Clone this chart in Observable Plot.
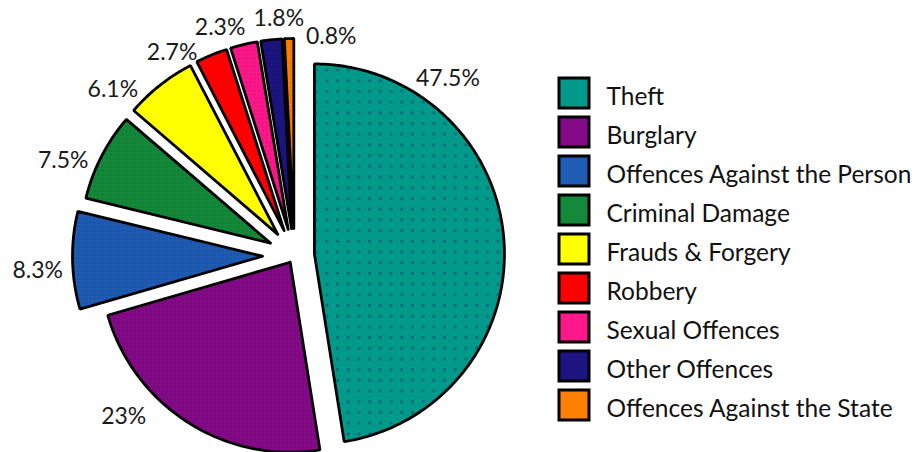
<!DOCTYPE html>
<html><head><meta charset="utf-8">
<script src="https://cdn.jsdelivr.net/npm/d3@7"></script>
<script src="https://cdn.jsdelivr.net/npm/@observablehq/plot@0.6"></script>
<style>body{margin:0;background:#fff} #chart svg{display:block}</style>
</head><body><div id="chart"></div>
<script>
// ---- data ----
const categories = ["Theft","Burglary","Offences Against the Person","Criminal Damage","Frauds & Forgery","Robbery","Sexual Offences","Other Offences","Offences Against the State"];
const values = [47.5, 23, 8.3, 7.5, 6.1, 2.7, 2.3, 1.8, 0.8];
const labels = ["47.5%","23%","8.3%","7.5%","6.1%","2.7%","2.3%","1.8%","0.8%"];
const colors = ["#00998a","#850a88","#1f5cb4","#14893a","#ffff00","#ff0000","#ff188c","#1c1480","#ff8000"];

// ---- layout ----
const W = 915, H = 452, CX = 294, CY = 255, R = 190;
const explode = [20, 8, 32, 27, 27, 27, 27, 27, 27];
const labelAngle = [30, 223, 266, 294.5, 316, 334, 348, 356.5, 3.6];
const labelDist = [203, 211, 200, 200, 201, 198, 206, 210, 192];
const FONT = "Lato";

const rad = d => d * Math.PI / 180;
const arcs = d3.pie().sort(null).startAngle(0).endAngle(2 * Math.PI)(values);
const pts = [];
const tips = [];
arcs.forEach((p, i) => {
  const mid = (p.startAngle + p.endAngle) / 2;
  const ox = CX + explode[i] * Math.sin(mid), oy = CY - explode[i] * Math.cos(mid);
  tips.push([ox, oy]);
  const cat = categories[i];
  pts.push({cat, x: ox, y: oy});
  const n = Math.max(2, Math.ceil((p.endAngle - p.startAngle) / rad(1)));
  for (let k = 0; k <= n; k++) {
    const a = p.startAngle + (p.endAngle - p.startAngle) * k / n;
    pts.push({cat, x: ox + R * Math.sin(a), y: oy - R * Math.cos(a)});
  }
  pts.push({cat, x: ox, y: oy});
});

const labelRows = labels.map((t, i) => {
  const a = rad(labelAngle[i]);
  const s = Math.sin(a);
  return {
    t,
    x: tips[i][0] + labelDist[i] * s,
    y: tips[i][1] - labelDist[i] * Math.cos(a),
    anchor: s < -0.1 ? "end" : s > 0.05 ? "start" : "middle"
  };
});

const legendRows = categories.map((cat, i) => ({cat, i}));

const marks = [
  Plot.line(pts, {x: "x", y: "y", z: "cat", fill: "cat", stroke: "black", strokeWidth: 2.8, strokeLinejoin: "miter", curve: "linear"}),
  Plot.line(pts.filter(d => d.cat === categories[0]), {x: "x", y: "y", z: "cat", fill: "url(#dotsTheft)", stroke: "none", curve: "linear"}),
  Plot.line(pts.filter(d => d.cat !== categories[0] && d.cat !== categories[4] && d.cat !== categories[5]), {x: "x", y: "y", z: "cat", fill: "url(#dither)", stroke: "none", curve: "linear"}),
  ...["start", "end", "middle"].map(anc => Plot.text(labelRows.filter(d => d.anchor === anc), {
    x: "x", y: "y", text: "t", textAnchor: anc, lineAnchor: "middle",
    fontSize: 23, fontFamily: FONT, fill: "#1a1a1a"
  })),
  Plot.rect(legendRows, {x1: () => 559, x2: () => 589, y1: d => 78 + 39 * d.i, y2: d => 108 + 39 * d.i, fill: "cat", stroke: "black", strokeWidth: 3}),
  Plot.text(legendRows, {x: () => 606, y: d => 97 + 39 * d.i, text: "cat", textAnchor: "start", lineAnchor: "middle", fontSize: 24.5, fontFamily: FONT, fill: "#111"})
];

const chart = Plot.plot({
  width: W, height: H, margin: 0,
  style: {background: "#fff", fontFamily: FONT},
  x: {domain: [0, W], range: [0, W], axis: null},
  y: {domain: [0, H], range: [0, H], axis: null},
  color: {type: "ordinal", domain: categories, range: colors},
  marks
});

const NS = "http://www.w3.org/2000/svg";
const defs = document.createElementNS(NS, "defs");
function pattern(id, size, color, r) {
  const p = document.createElementNS(NS, "pattern");
  p.setAttribute("id", id); p.setAttribute("patternUnits", "userSpaceOnUse");
  p.setAttribute("width", size); p.setAttribute("height", size);
  const c = document.createElementNS(NS, "rect");
  c.setAttribute("x", size / 2 - r); c.setAttribute("y", size / 2 - r);
  c.setAttribute("width", 2 * r); c.setAttribute("height", 2 * r);
  c.setAttribute("fill", color);
  p.appendChild(c); defs.appendChild(p);
}
pattern("dotsTheft", 10.7, "rgba(20,70,110,0.75)", 1.2);
pattern("dither", 4, "rgba(0,0,0,0.12)", 1);
chart.insertBefore(defs, chart.firstChild);
document.getElementById("chart").appendChild(chart);
</script></body></html>
